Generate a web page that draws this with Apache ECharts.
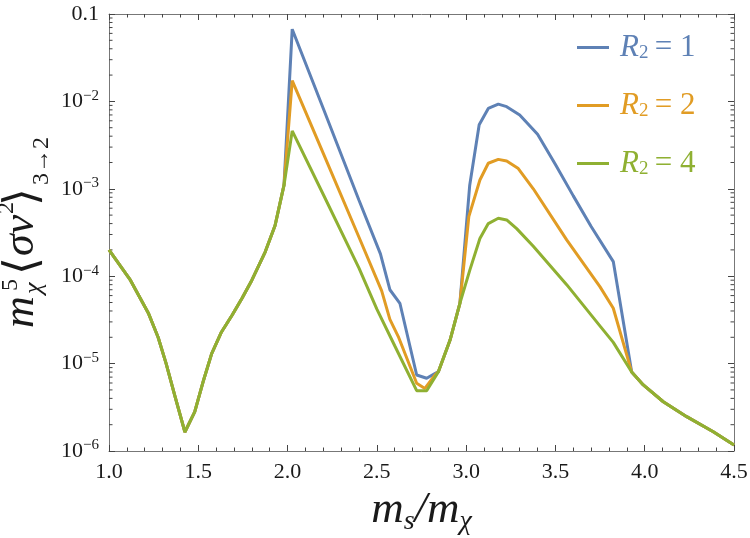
<!DOCTYPE html>
<html>
<head>
<meta charset="utf-8">
<script src="https://cdn.jsdelivr.net/npm/echarts@6/dist/echarts.min.js"></script>
<style>
  html, body { margin: 0; padding: 0; background: #fff; }
  #chart { width: 750px; height: 538px; }
</style>
</head>
<body>
<div id="chart"></div>
<script>
// shared part of all three curves (x < 2)
var commonX = [1.0, 1.12, 1.165, 1.22, 1.275, 1.32, 1.37, 1.425, 1.48, 1.53, 1.575, 1.63, 1.69, 1.745, 1.8, 1.875, 1.93, 1.98];
var commonY = [2.0e-4, 9.0e-5, 6.1e-5, 3.8e-5, 2.0e-5, 1.0e-5, 4.2e-6, 1.65e-6, 2.8e-6, 6.5e-6, 1.3e-5, 2.3e-5, 3.6e-5, 5.6e-5, 9.0e-5, 1.9e-4, 3.8e-4, 1.1e-3];

// peak at 2 and the dip
var blueDipX = [2.026, 2.2, 2.4, 2.52, 2.573, 2.629, 2.723, 2.779, 2.825];
var blueDipY = [0.067, 0.0083, 7.4e-4, 1.8e-4, 7.0e-5, 4.9e-5, 7.4e-6, 6.8e-6, 7.7e-6];
var orangeDipX = [2.026, 2.2, 2.4, 2.527, 2.573, 2.62, 2.723, 2.769, 2.825];
var orangeDipY = [0.0173, 0.00254, 2.79e-4, 6.8e-5, 3.2e-5, 2.04e-5, 5.95e-6, 5.2e-6, 7.4e-6];
var greenDipX = [2.026, 2.2, 2.4, 2.5, 2.6, 2.723, 2.779];
var greenDipY = [4.6e-3, 8.6e-4, 1.24e-4, 4.2e-5, 1.6e-5, 4.9e-6, 4.9e-6];

// shared rise after the dip
var riseX = [2.845, 2.91, 2.965];
var riseY = [8.1e-6, 1.86e-5, 4.9e-5];

// second bump
var blueBumpX = [3.02, 3.073, 3.124, 3.18, 3.227, 3.3, 3.4, 3.5, 3.6, 3.7, 3.824];
var blueBumpY = [1.1e-3, 5.4e-3, 8.3e-3, 9.3e-3, 8.7e-3, 7.0e-3, 4.2e-3, 1.9e-3, 8.3e-4, 3.7e-4, 1.47e-4];
var orangeBumpX = [3.015, 3.077, 3.124, 3.18, 3.227, 3.29, 3.376, 3.563, 3.749, 3.824];
var orangeBumpY = [4.8e-4, 1.26e-3, 1.96e-3, 2.17e-3, 2.08e-3, 1.72e-3, 1.0e-3, 2.6e-4, 7.6e-5, 4.3e-5];
var greenBumpX = [3.021, 3.077, 3.124, 3.18, 3.227, 3.283, 3.376, 3.563, 3.749, 3.824];
var greenBumpY = [1.18e-4, 2.7e-4, 4.0e-4, 4.6e-4, 4.4e-4, 3.5e-4, 2.2e-4, 8.0e-5, 2.7e-5, 1.75e-5];

// shared tail
var tailX = [3.927, 3.992, 4.104, 4.235, 4.384, 4.5];
var tailY = [8.0e-6, 5.7e-6, 3.66e-6, 2.47e-6, 1.66e-6, 1.17e-6];

var names = ['R2 = 1', 'R2 = 2', 'R2 = 4'];
var colors = ['#5E81B5', '#E19C24', '#8FB032'];
var minorTicks = [2, 3, 4, 5, 6, 7, 8, 9];
var decades = [-6, -5, -4, -3, -2];

function zip(xs, ys) {
  return xs.map(function (x, i) { return [x, ys[i]]; });
}
function curve(dx, dy, bx, by) {
  return zip(commonX.concat(dx, riseX, bx, tailX), commonY.concat(dy, riseY, by, tailY));
}

var minorVals = [];
decades.forEach(function (d) {
  minorTicks.forEach(function (m) { minorVals.push([1.0, m * Math.pow(10, d)]); });
});

var serif = 'Liberation Serif';
var ink = '#1a1a1a';
var chart = echarts.init(document.getElementById('chart'));

// y title piece: text, local x, local baseline, size, italic, family
function piece(text, x, base, size, italic, family) {
  return {
    type: 'text',
    x: x,
    y: base - 0.34 * size,
    style: {
      text: text,
      font: (italic ? 'italic ' : '') + size + 'px "' + (family || serif) + '"',
      fill: ink,
      verticalAlign: 'middle',
      align: 'left'
    }
  };
}

var tickStyle = { color: '#444', width: 1 };
var option = {
  backgroundColor: '#fff',
  animation: false,
  grid: { left: 109, right: 16, top: 14, bottom: 87, outerBoundsMode: 'none' },
  legend: {
    orient: 'vertical',
    left: 572,
    top: 27,
    icon: 'rect',
    itemWidth: 32,
    itemHeight: 3,
    itemGap: 27,
    data: names.map(function (n, i) {
      return { name: n, textStyle: { color: colors[i] } };
    }),
    formatter: function (name) {
      return '{i|R}{s|2}{t|\u2009= ' + name.slice(-1) + '}';
    },
    textStyle: {
      fontFamily: serif,
      fontSize: 30,
      lineHeight: 30,
      rich: {
        i: { fontFamily: serif, fontStyle: 'italic', fontSize: 31, lineHeight: 30, padding: [0, 0, 0, 6] },
        s: { fontFamily: serif, fontSize: 19, lineHeight: 14, verticalAlign: 'bottom' },
        t: { fontFamily: serif, fontSize: 31, lineHeight: 30 }
      }
    }
  },
  xAxis: [{
    type: 'value',
    min: 1.0,
    max: 4.5,
    interval: 0.5,
    position: 'bottom',
    axisLine: { lineStyle: { color: '#777', width: 1 } },
    axisTick: { inside: true, length: 6, lineStyle: tickStyle },
    minorTick: { show: true, splitNumber: 5, length: 3.5, lineStyle: tickStyle },
    splitLine: { show: false },
    axisLabel: {
      margin: 10,
      fontFamily: serif,
      fontSize: 22,
      color: ink,
      formatter: function (v) { return v.toFixed(1); }
    },
    name: '{i|m}{s|s}{i|/m}{s|χ}',
    nameLocation: 'middle',
    nameGap: 34,
    nameTextStyle: {
      rich: {
        i: { fontFamily: serif, fontStyle: 'italic', fontSize: 45, lineHeight: 50, color: ink },
        s: { fontFamily: serif, fontStyle: 'italic', fontSize: 28, lineHeight: 24, verticalAlign: 'bottom', color: ink }
      }
    }
  }, {
    type: 'value',
    min: 1.0,
    max: 4.5,
    interval: 0.5,
    position: 'top',
    axisLine: { lineStyle: { color: '#777', width: 1 } },
    axisTick: { inside: true, length: 6, lineStyle: tickStyle },
    minorTick: { show: true, splitNumber: 5, length: 3.5, lineStyle: tickStyle },
    splitLine: { show: false },
    axisLabel: { show: false }
  }],
  yAxis: [{
    type: 'log',
    min: 1e-6,
    max: 0.1,
    position: 'left',
    axisLine: { show: true, lineStyle: { color: '#777', width: 1 } },
    axisTick: { show: true, inside: true, length: 6, lineStyle: tickStyle },
    splitLine: { show: false },
    axisLabel: {
      margin: 10,
      color: ink,
      formatter: function (v) {
        var n = Math.round(Math.log10(v));
        if (n === -1) return '{b|0.1}';
        return '{b|10}{p|−' + (-n) + '}';
      },
      rich: {
        b: { fontFamily: serif, fontSize: 22, lineHeight: 26, color: ink },
        p: { fontFamily: serif, fontSize: 15, lineHeight: 10, verticalAlign: 'top', color: ink }
      }
    }
  }, {
    type: 'log',
    min: 1e-6,
    max: 0.1,
    position: 'right',
    axisLine: { show: true, lineStyle: { color: '#777', width: 1 } },
    axisTick: { show: true, inside: true, length: 6, lineStyle: tickStyle },
    splitLine: { show: false },
    axisLabel: { show: false }
  }],
  graphic: [{
    type: 'group',
    x: 36,
    y: 328,
    rotation: Math.PI / 2,
    silent: true,
    children: [
      piece('m', 0, 0, 44, true),
      piece('5', 37, -17, 24, false),
      piece('χ', 34, 7, 26, true),
      piece('⟨', 53, 4, 46, false, 'DejaVu Sans'),
      piece('σv', 72, 0, 44, true),
      piece('2', 114, -21, 24, false),
      piece('⟩', 122, 4, 46, false, 'DejaVu Sans'),
      piece('3→2', 143, 14, 24, false)
    ]
  }],
  series: [{
    name: names[0],
    type: 'line',
    showSymbol: false,
    symbol: 'none',
    lineStyle: { width: 3, color: colors[0] },
    itemStyle: { color: colors[0] },
    data: curve(blueDipX, blueDipY, blueBumpX, blueBumpY)
  }, {
    name: names[1],
    type: 'line',
    showSymbol: false,
    symbol: 'none',
    lineStyle: { width: 3, color: colors[1] },
    itemStyle: { color: colors[1] },
    data: curve(orangeDipX, orangeDipY, orangeBumpX, orangeBumpY)
  }, {
    name: names[2],
    type: 'line',
    showSymbol: false,
    symbol: 'none',
    lineStyle: { width: 3, color: colors[2] },
    itemStyle: { color: colors[2] },
    data: curve(greenDipX, greenDipY, greenBumpX, greenBumpY)
  }, {
    // log-spaced minor ticks on left and right frame
    type: 'custom',
    silent: true,
    clip: false,
    data: minorVals,
    encode: { x: 0, y: 1 },
    renderItem: function (params, api) {
      var v = api.value(1);
      var p = api.coord([1.0, v]);
      var q = api.coord([4.5, v]);
      return {
        type: 'group',
        children: [
          { type: 'line', shape: { x1: p[0], y1: p[1], x2: p[0] + 3.5, y2: p[1] }, style: { stroke: '#444', lineWidth: 1 } },
          { type: 'line', shape: { x1: q[0] - 3.5, y1: q[1], x2: q[0], y2: q[1] }, style: { stroke: '#444', lineWidth: 1 } }
        ]
      };
    }
  }]
};
chart.setOption(option);
</script>
</body>
</html>
